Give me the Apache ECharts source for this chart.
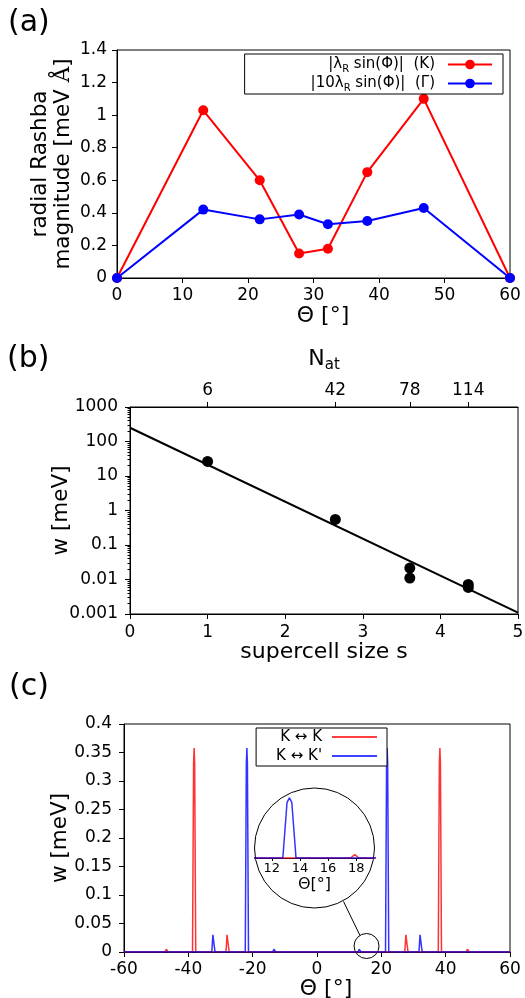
<!DOCTYPE html>
<html><head><meta charset="utf-8">
<script src="https://cdn.jsdelivr.net/npm/echarts@6/dist/echarts.min.js"></script>
<style>html,body{margin:0;padding:0;background:#fff}#c{width:525px;height:998px}</style>
</head><body><div id="c"></div>
<script>
const FONT = 'DejaVu Sans';
// ---------- panel (a) ----------
const thetaA = [0, 13.17, 21.79, 27.8, 32.2, 38.21, 46.83, 60];
const rashbaK = [0, 1.03, 0.60, 0.15, 0.18, 0.65, 1.10, 0];
const rashbaGamma = [0, 0.42, 0.36, 0.39, 0.33, 0.35, 0.43, 0];
const namesA = ['|λR sin(Φ)|  (K)', '|10λR sin(Φ)|  (Γ)'];
// ---------- panel (b) ----------
const supercellS = [1, 2.646, 3.606, 3.606, 4.359, 4.359];
const widthW = [26.5, 0.55, 0.0215, 0.011, 0.0072, 0.0059];
const fitS = [0, 5];
const fitW = [250, 0.0011];
const natLabels = [6, 42, 78, 114];
const natPositions = [1, 2.646, 3.606, 4.359];
// ---------- panel (c) ----------
const namesC = ['K ↔ K', "K ↔ K'"];
const kkTheta = [-60, -47.3, -46.8, -46.3, -38.7, -38.37, -38.2, -38.03, -37.7, -28.3, -27.97, -27.8, -27.63, -27.3,
  -18.2, -17.9, -17.6, 17.6, 17.9, 18.2, 27.3, 27.63, 27.8, 27.97, 28.3, 37.7, 38.03, 38.2, 38.37, 38.7, 46.3, 46.8, 47.3, 60];
const kkW = [0, 0, 0.005, 0, 0, 0.33, 0.358, 0.33, 0, 0, 0.03, 0.032, 0.03, 0,
  0, 0.0003, 0, 0, 0.0003, 0, 0, 0.03, 0.032, 0.03, 0, 0, 0.33, 0.358, 0.33, 0, 0, 0.005, 0, 0];
const kkpTheta = [-60, -32.7, -32.37, -32.2, -32.03, -31.7, -22.3, -21.97, -21.8, -21.63, -21.3,
  -13.72, -13.42, -13.25, -13.08, -12.78, 12.78, 13.08, 13.25, 13.42, 13.72,
  21.3, 21.63, 21.8, 21.97, 22.3, 31.7, 32.03, 32.2, 32.37, 32.7, 60];
const kkpW = [0, 0, 0.03, 0.033, 0.03, 0, 0, 0.33, 0.358, 0.33, 0,
  0, 0.0049, 0.0053, 0.0049, 0, 0, 0.0049, 0.0053, 0.0049, 0,
  0, 0.33, 0.358, 0.33, 0, 0, 0.03, 0.033, 0.03, 0, 0];
const zoomMarker = [15.4, 0.0105];
const insetTicks = [12, 14, 16, 18];

const zip = (a, b) => a.map((v, i) => [v, b[i]]);
const minorTicks = [];
for (let e = -3; e < 3; e++) for (let m = 2; m <= 9; m++) minorTicks.push(+(m * Math.pow(10, e)).toPrecision(3));

function ax(o) {
  const base = {
    type: 'value',
    nameMoveOverlap: false,
    splitLine: { show: false },
    axisLine: { show: true, onZero: false, lineStyle: { color: '#000', width: 1 } },
    axisTick: { show: true, length: 5, lineStyle: { color: '#000', width: 1 } },
    axisLabel: { color: '#000', fontSize: 17, fontFamily: FONT },
    nameLocation: 'middle',
    nameTextStyle: { color: '#000', fontSize: 22, fontFamily: FONT }
  };
  const r = Object.assign({}, base, o);
  ['axisLine', 'axisTick', 'axisLabel', 'nameTextStyle'].forEach(k => {
    if (o[k]) r[k] = Object.assign({}, base[k], o[k]);
  });
  return r;
}

const gridStyle = { show: true, borderColor: '#000', borderWidth: 1, backgroundColor: 'transparent', containLabel: false, outerBoundsMode: 'none' };

const option = {
  animation: false,
  backgroundColor: '#fff',
  textStyle: { fontFamily: FONT },
  grid: [
    Object.assign({ left: 117, top: 50, width: 393, height: 228 }, gridStyle),
    Object.assign({ left: 130, top: 407, width: 388, height: 207 }, gridStyle),
    Object.assign({ left: 124, top: 724, width: 386, height: 228 }, gridStyle),
    { left: 255, top: 790, width: 119, height: 68, show: false, containLabel: false, outerBoundsMode: 'none' }
  ],
  xAxis: [
    ax({ gridIndex: 0, min: 0, max: 60, interval: 10, name: 'Θ [°]', nameGap: 27,
      axisLabel: { margin: 9 }, nameTextStyle: { padding: [0, 0, 0, 19] } }),
    ax({ gridIndex: 1, min: 0, max: 5, interval: 1, name: 'supercell size s', nameGap: 27,
      axisLabel: { margin: 10 } }),
    ax({ gridIndex: 1, min: 0, max: 5, position: 'top',
      name: '{n|N}{s|at}', nameGap: 34,
      nameTextStyle: { rich: {
        n: { fontSize: 22, fontFamily: FONT, color: '#000', lineHeight: 28 },
        s: { fontSize: 15, fontFamily: FONT, color: '#000', verticalAlign: 'bottom' } } },
      axisTick: { customValues: natPositions },
      axisLabel: { customValues: natPositions, margin: 8,
        formatter: v => { const i = natPositions.findIndex(p => Math.abs(p - v) < 1e-6); return i >= 0 ? String(natLabels[i]) : ''; } } }),
    ax({ gridIndex: 2, min: -60, max: 60, interval: 20, name: 'Θ [°]', nameGap: 26,
      axisLabel: { margin: 9 }, nameTextStyle: { padding: [0, 0, 0, 18] } }),
    ax({ gridIndex: 3, min: 10.8, max: 19.27, name: 'Θ[°]', nameGap: 19,
      axisTick: { customValues: insetTicks, length: 3 },
      axisLabel: { customValues: insetTicks, fontSize: 13, margin: 4 },
      nameTextStyle: { fontSize: 16 } })
  ],
  yAxis: [
    ax({ gridIndex: 0, min: 0, max: 1.4, interval: 0.2,
      name: 'radial Rashba\n{m|magnitude [meV }{r|Å}{m|]}', nameRotate: 90, nameGap: 42,
      axisLabel: { margin: 10 },
      nameTextStyle: { fontSize: 21.5, lineHeight: 23, rich: {
        m: { fontSize: 21.5, fontFamily: FONT, color: '#000', lineHeight: 23 },
        r: { fontSize: 21.5, fontFamily: 'DejaVu Serif', color: '#000', lineHeight: 23 } } } }),
    ax({ gridIndex: 1, type: 'log', logBase: 10, min: 0.001, max: 1000, splitNumber: 6,
      name: 'w [meV]', nameRotate: 90, nameGap: 58,
      axisLabel: { margin: 12, formatter: v => String(+(+v).toPrecision(6)) },
      nameTextStyle: { fontSize: 21.5 } }),
    ax({ gridIndex: 1, type: 'log', logBase: 10, min: 0.001, max: 1000, position: 'left', offset: 0,
      axisLine: { show: false }, axisLabel: { show: false },
      axisTick: { customValues: minorTicks, length: 2.5 } }),
    ax({ gridIndex: 2, min: 0, max: 0.4, interval: 0.05,
      name: 'w [meV]', nameRotate: 90, nameGap: 53, axisLabel: { margin: 12 },
      nameTextStyle: { fontSize: 21.5 } }),
    ax({ gridIndex: 3, min: 0, max: 0.006, show: false })
  ],
  legend: [
    {
      data: namesA, orient: 'vertical', align: 'right', right: 22, top: 54,
      itemWidth: 44, itemHeight: 12, itemGap: 0, padding: [1, 10, 1, 66],
      borderColor: '#000', borderWidth: 1, backgroundColor: '#fff', selectedMode: false,
      textStyle: { color: '#000', fontFamily: FONT, fontSize: 15, lineHeight: 19, padding: [0, 8, 0, 0],
        rich: {
          t: { fontSize: 15, fontFamily: FONT, color: '#000', lineHeight: 19 },
          s: { fontSize: 10, fontFamily: FONT, color: '#000', verticalAlign: 'bottom' } } },
      formatter: name => '{t|' + name.replace('λR', 'λ}{s|R}{t|') + '}'
    },
    {
      data: namesC, orient: 'vertical', align: 'right', right: 138, top: 728, icon: 'rect',
      itemWidth: 45, itemHeight: 1.5, itemGap: 1, padding: [0, 10, 1, 20],
      borderColor: '#000', borderWidth: 1, backgroundColor: '#fff', selectedMode: false,
      textStyle: { color: '#000', fontFamily: FONT, fontSize: 15, lineHeight: 18, padding: [0, 5, 0, 0] }
    }
  ],
  graphic: [
    { type: 'text', left: 8, top: 8, style: { text: '(a)', fontSize: 30, fontFamily: FONT, fill: '#000' } },
    { type: 'text', left: 7, top: 344, style: { text: '(b)', fontSize: 30, fontFamily: FONT, fill: '#000' } },
    { type: 'text', left: 9, top: 672, style: { text: '(c)', fontSize: 30, fontFamily: FONT, fill: '#000' } },
    { type: 'circle', shape: { cx: 314.5, cy: 848, r: 60 }, style: { fill: 'none', stroke: '#000', lineWidth: 1 }, z: 1 },
    { type: 'line', shape: { x1: 343.5, y1: 901.5, x2: 360, y2: 935.5 }, style: { stroke: '#000', lineWidth: 1 }, z: 1 }
  ],
  series: [
    { name: namesA[0], type: 'line', xAxisIndex: 0, yAxisIndex: 0, data: zip(thetaA, rashbaK),
      color: '#ff0000', lineStyle: { width: 2 }, itemStyle: { opacity: 1 }, symbol: 'circle', symbolSize: 10 },
    { name: namesA[1], type: 'line', xAxisIndex: 0, yAxisIndex: 0, data: zip(thetaA, rashbaGamma),
      color: '#0000ff', lineStyle: { width: 2 }, itemStyle: { opacity: 1 }, symbol: 'circle', symbolSize: 10 },
    { name: 'fit', type: 'line', xAxisIndex: 1, yAxisIndex: 1, data: zip(fitS, fitW),
      color: '#000', lineStyle: { width: 2 }, symbol: 'none' },
    { name: 'w', type: 'scatter', xAxisIndex: 1, yAxisIndex: 1, data: zip(supercellS, widthW),
      itemStyle: { color: '#000', opacity: 1 }, symbolSize: 11 },
    { name: namesC[0], type: 'line', xAxisIndex: 3, yAxisIndex: 3, data: zip(kkTheta, kkW),
      color: '#ff0000', lineStyle: { width: 1.5, opacity: 0.8 }, symbol: 'none' },
    { name: namesC[1], type: 'line', xAxisIndex: 3, yAxisIndex: 3, data: zip(kkpTheta, kkpW),
      color: '#0000ff', lineStyle: { width: 1.5, opacity: 0.8 }, symbol: 'none' },
    { name: namesC[0], type: 'line', xAxisIndex: 4, yAxisIndex: 4, data: zip(kkTheta, kkW),
      color: '#ff0000', lineStyle: { width: 1.5, opacity: 0.8 }, symbol: 'none' },
    { name: namesC[1], type: 'line', xAxisIndex: 4, yAxisIndex: 4, data: zip(kkpTheta, kkpW),
      color: '#0000ff', lineStyle: { width: 1.5, opacity: 0.8 }, symbol: 'none' },
    { name: 'zoom', type: 'scatter', xAxisIndex: 3, yAxisIndex: 3, data: [zoomMarker], symbolSize: 25,
      itemStyle: { color: 'rgba(0,0,0,0)', borderColor: '#000', borderWidth: 1, opacity: 1 }, clip: false }
  ]
};
const chart = echarts.init(document.getElementById('c'), null, { renderer: 'canvas' });
chart.setOption(option);
</script></body></html>
